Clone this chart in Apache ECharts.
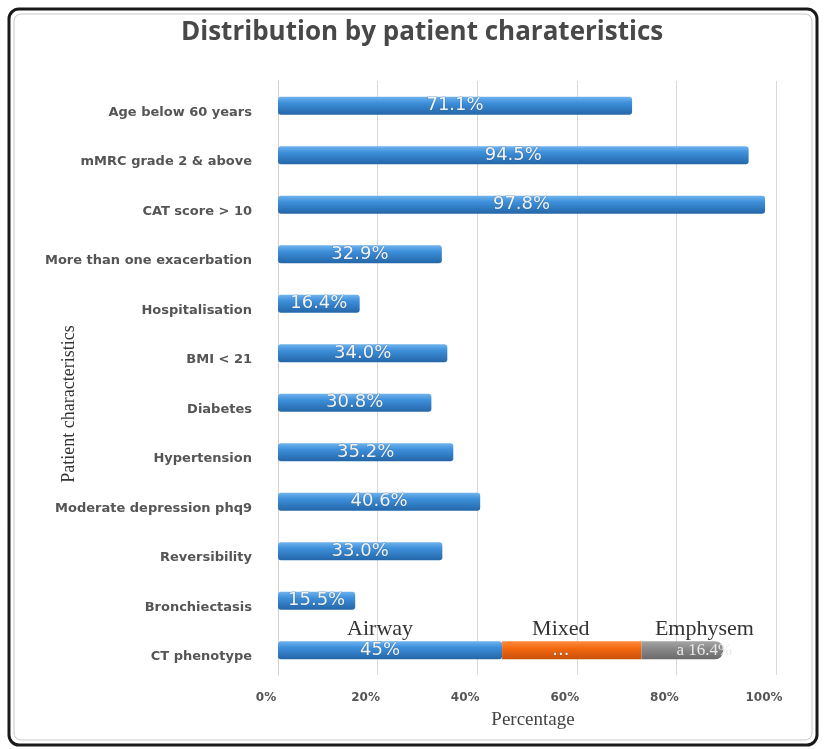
<!DOCTYPE html>
<html>
<head>
<meta charset="utf-8">
<script src="https://cdn.jsdelivr.net/npm/echarts@6/dist/echarts.min.js"></script>
<style>
html,body{margin:0;padding:0;background:#fff;}
#c{width:826px;height:749px;}
</style>
</head>
<body>
<div id="c"></div>
<script>
const categories = ["Age below 60 years","mMRC grade 2 & above","CAT score > 10","More than one exacerbation","Hospitalisation","BMI < 21","Diabetes","Hypertension","Moderate depression phq9","Reversibility","Bronchiectasis","CT phenotype"];
const mainValues = [71.1, 94.5, 97.8, 32.9, 16.4, 34.0, 30.8, 35.2, 40.6, 33.0, 15.5, 45];
const mixedValues = ['-','-','-','-','-','-','-','-','-','-','-', 28];
const emphysemaValues = ['-','-','-','-','-','-','-','-','-','-','-', 16.4];

const chart = echarts.init(document.getElementById('c'));
const blue = new echarts.graphic.LinearGradient(0,0,0,1,[{offset:0,color:'#6fb3ee'},{offset:0.35,color:'#3d8fda'},{offset:1,color:'#2466a8'}]);
const orange = new echarts.graphic.LinearGradient(0,0,0,1,[{offset:0,color:'#ff8a3a'},{offset:0.4,color:'#f4680f'},{offset:1,color:'#c9500a'}]);
const gray = new echarts.graphic.LinearGradient(0,0,0,1,[{offset:0,color:'#a5a5a5'},{offset:0.4,color:'#8a8a8a'},{offset:1,color:'#6a6a6a'}]);
const last = categories.length - 1;
const valStyle = {color:'#f2f2f2', fontSize:18, fontFamily:'DejaVu Sans', textBorderColor:'rgba(40,80,120,0.35)', textBorderWidth:1};
const nameStyle = {color:'#333', fontSize:22, fontFamily:'Liberation Serif', lineHeight:24};

chart.setOption({
  animation:false,
  backgroundColor:'#fff',
  title:{text:'Distribution by patient charateristics', left:181, top:20, padding:0,
    textStyle:{fontSize:26, fontWeight:'bold', color:'#484848', fontFamily:'Open Sans'}},
  graphic:[
    {type:'rect', shape:{x:9,y:9,width:808,height:736,r:10}, style:{fill:'none', stroke:'#1a1a1a', lineWidth:3}, z:-1},
    {type:'rect', shape:{x:14,y:14,width:798,height:726,r:7}, style:{fill:'none', stroke:'#c8c8c8', lineWidth:1}, z:-1}
  ],
  grid:{left:278, right:50, top:81, bottom:74},
  xAxis:{type:'value', min:0, max:100, interval:20,
    axisLine:{show:false}, axisTick:{show:false},
    splitLine:{lineStyle:{color:'#d9d9d9'}},
    axisLabel:{formatter:v=>v+'%', color:'#555', fontSize:12, fontFamily:'DejaVu Sans', fontWeight:'bold', margin:17, padding:[0,24,0,0]},
    name:'Percentage', nameLocation:'middle', nameGap:36, nameMoveOverlap:false,
    nameTextStyle:{fontSize:19, color:'#444', fontFamily:'Liberation Serif', padding:[0,0,0,12]}},
  yAxis:{type:'category', data:categories, inverse:true,
    axisLine:{show:true, lineStyle:{color:'#d0d0d0'}}, axisTick:{show:false},
    axisLabel:{color:'#555', fontSize:13, fontWeight:'bold', fontFamily:'DejaVu Sans', margin:26, verticalAlign:'top'},
    name:'Patient characteristics', nameLocation:'middle', nameGap:200, nameRotate:90, nameMoveOverlap:false,
    nameTextStyle:{fontSize:18, color:'#333', fontFamily:'Liberation Serif', padding:[0,52,0,0]}},
  series:[
    {name:'Airway', type:'bar', stack:'t', barWidth:18, data:mainValues,
      itemStyle:{color:blue, borderRadius:3},
      label:{show:true, position:'inside',
        formatter:p=> p.dataIndex===last ? '{n|Airway}\n{v|'+p.value+'%}' : '{v|'+p.value.toFixed(1)+'%}',
        rich:{v:Object.assign({lineHeight:18}, valStyle), n:nameStyle}},
      labelLayout:p=> p.dataIndex===last ? {dy:-12, dx:-10} : {}},
    {name:'Mixed', type:'bar', stack:'t', barWidth:18, data:mixedValues,
      itemStyle:{color:orange},
      label:{show:true, position:'inside', offset:[-11,-12],
        formatter:'{n|Mixed}\n{v|...}',
        rich:{v:Object.assign({lineHeight:18}, valStyle), n:nameStyle}}},
    {name:'Emphysema', type:'bar', stack:'t', barWidth:18, data:emphysemaValues,
      itemStyle:{color:gray, borderRadius:[0,8,8,0]},
      label:{show:true, position:'inside', offset:[22,-12],
        formatter:p=>'{n|Emphysem}\n{v|a '+p.value+'%}',
        rich:{v:{lineHeight:18, color:'#e8e8e8', fontSize:17, fontFamily:'Liberation Serif'}, n:nameStyle}}}
  ]
});
</script>
</body>
</html>
